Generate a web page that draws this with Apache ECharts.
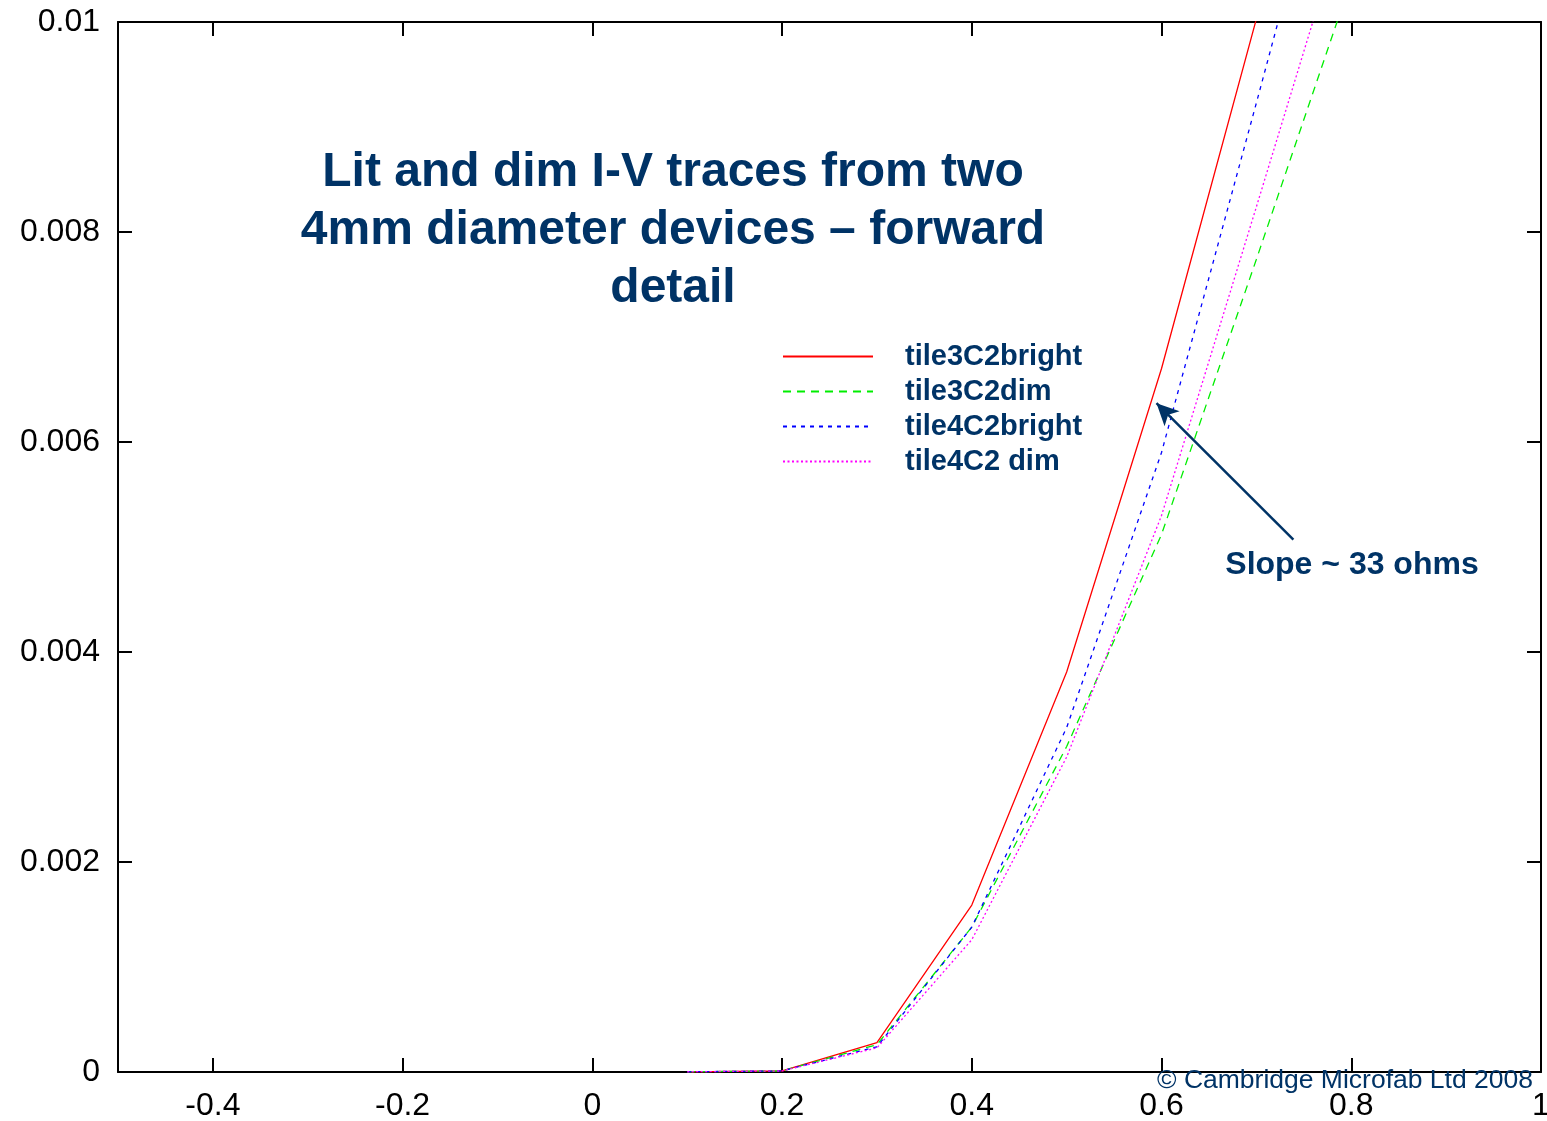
<!DOCTYPE html>
<html>
<head>
<meta charset="utf-8">
<script src="https://cdn.jsdelivr.net/npm/echarts@6/dist/echarts.min.js"></script>
<style>html,body{margin:0;padding:0;background:#fff;overflow:hidden}#c{width:1547px;height:1121px}</style>
</head>
<body>
<div id="c"></div>
<script>
const voltages = [0.1, 0.2, 0.3, 0.4, 0.5, 0.6, 0.7, 0.8];
const tile3C2bright = [0.000002, 0.00001, 0.00028, 0.00159, 0.00381, 0.0067, 0.01003, 0.0135];
const tile3C2dim    = [0.000002, 0.00001, 0.00026, 0.00138, 0.0031, 0.00512, 0.00774, 0.0104];
const tile4C2bright = [0.000002, 0.00001, 0.00024, 0.00138, 0.00328, 0.0059, 0.00923, 0.0126];
const tile4C2dim    = [0.000002, 0.00001, 0.00023, 0.00126, 0.0030, 0.0053, 0.00824, 0.0112];
const seriesNames = ['tile3C2bright', 'tile3C2dim', 'tile4C2bright', 'tile4C2 dim'];
const xTicks = [-0.4, -0.2, 0, 0.2, 0.4, 0.6, 0.8, 1];
const titleLines = ['Lit and dim I-V traces from two', '4mm diameter devices \u2013 forward', 'detail'];
const arrowStart = [0.739, 0.00507];
const arrowEnd = [0.5947, 0.00637];

const navy = '#003366';
const font = '"Liberation Sans", Arial, sans-serif';
const pair = (ys) => voltages.map((v, i) => [v, ys[i]]);

const chart = echarts.init(document.getElementById('c'), null, {renderer: 'canvas'});
const axisCommon = {
  axisLine: {show: true, onZero: false, lineStyle: {color: '#000', width: 2}},
  axisTick: {show: true, inside: true, length: 14, lineStyle: {color: '#000', width: 2}},
  splitLine: {show: false}
};
chart.setOption({
  animation: false,
  backgroundColor: '#fff',
  grid: {left: 118, right: 6, top: 22, bottom: 49, containLabel: false, outerBoundsMode: 'none'},
  xAxis: [
    Object.assign({}, axisCommon, {
      type: 'value', min: -0.5, max: 1, position: 'bottom',
      axisTick: Object.assign({}, axisCommon.axisTick, {customValues: xTicks}),
      axisLabel: {customValues: xTicks, color: '#000', fontSize: 32, fontFamily: font, margin: 18,
        hideOverlap: false, showMinLabel: true, showMaxLabel: true,
        formatter: v => String(Math.round(v * 10) / 10)}
    }),
    Object.assign({}, axisCommon, {
      type: 'value', min: -0.5, max: 1, position: 'top',
      axisTick: Object.assign({}, axisCommon.axisTick, {customValues: xTicks}),
      axisLabel: {show: false}
    })
  ],
  yAxis: [
    Object.assign({}, axisCommon, {
      type: 'value', min: 0, max: 0.01, interval: 0.002, position: 'left',
      axisLabel: {color: '#000', fontSize: 32, fontFamily: font, margin: 18,
        formatter: v => String(Math.round(v * 1000) / 1000)}
    }),
    Object.assign({}, axisCommon, {
      type: 'value', min: 0, max: 0.01, interval: 0.002, position: 'right',
      axisLabel: {show: false}
    })
  ],
  legend: {
    orient: 'vertical', left: 782, top: 342, padding: 0, itemWidth: 90, itemHeight: 14, itemGap: 6,
    data: seriesNames, selectedMode: false,
    itemStyle: {opacity: 0},
    textStyle: {color: navy, fontSize: 29, lineHeight: 27, fontWeight: 'bold', fontFamily: font, padding: [0, 0, 0, 27]}
  },
  series: [
    {name: seriesNames[0], type: 'line', data: pair(tile3C2bright), symbol: 'none', clip: true,
      lineStyle: {color: '#ff0000', width: 1.3, type: 'solid'}, itemStyle: {color: '#ff0000'},
      markLine: {silent: true, symbol: ['none', 'arrow'], symbolSize: [16, 22], label: {show: false},
        lineStyle: {color: navy, width: 2.5, type: 'solid'},
        data: [[{coord: arrowStart}, {coord: arrowEnd}]]}},
    {name: seriesNames[1], type: 'line', data: pair(tile3C2dim), symbol: 'none', clip: true,
      lineStyle: {color: '#00ee00', width: 1.3, type: [8, 6]}, itemStyle: {color: '#00ee00'}},
    {name: seriesNames[2], type: 'line', data: pair(tile4C2bright), symbol: 'none', clip: true,
      lineStyle: {color: '#0000ff', width: 1.3, type: [4, 5]}, itemStyle: {color: '#0000ff'}},
    {name: seriesNames[3], type: 'line', data: pair(tile4C2dim), symbol: 'none', clip: true,
      lineStyle: {color: '#ff00ff', width: 1.3, type: [2, 2.5]}, itemStyle: {color: '#ff00ff'}}
  ],
  graphic: [
    {type: 'text', silent: true, z: 100,
      x: 673, y: 144, style: {text: titleLines.join('\n'), textAlign: 'center',
        fill: navy, font: 'bold 48px ' + font, lineHeight: 58}},
    {type: 'text', silent: true, z: 100, x: 1352, y: 549,
      style: {text: 'Slope ~ 33 ohms', textAlign: 'center', fill: navy, font: 'bold 32px ' + font}},
    {type: 'text', silent: true, z: 100, x: 1533, y: 1067,
      style: {text: '\u00a9 Cambridge Microfab Ltd 2008', textAlign: 'right', fill: navy, font: '26.5px ' + font}}
  ]
});
</script>
</body>
</html>
